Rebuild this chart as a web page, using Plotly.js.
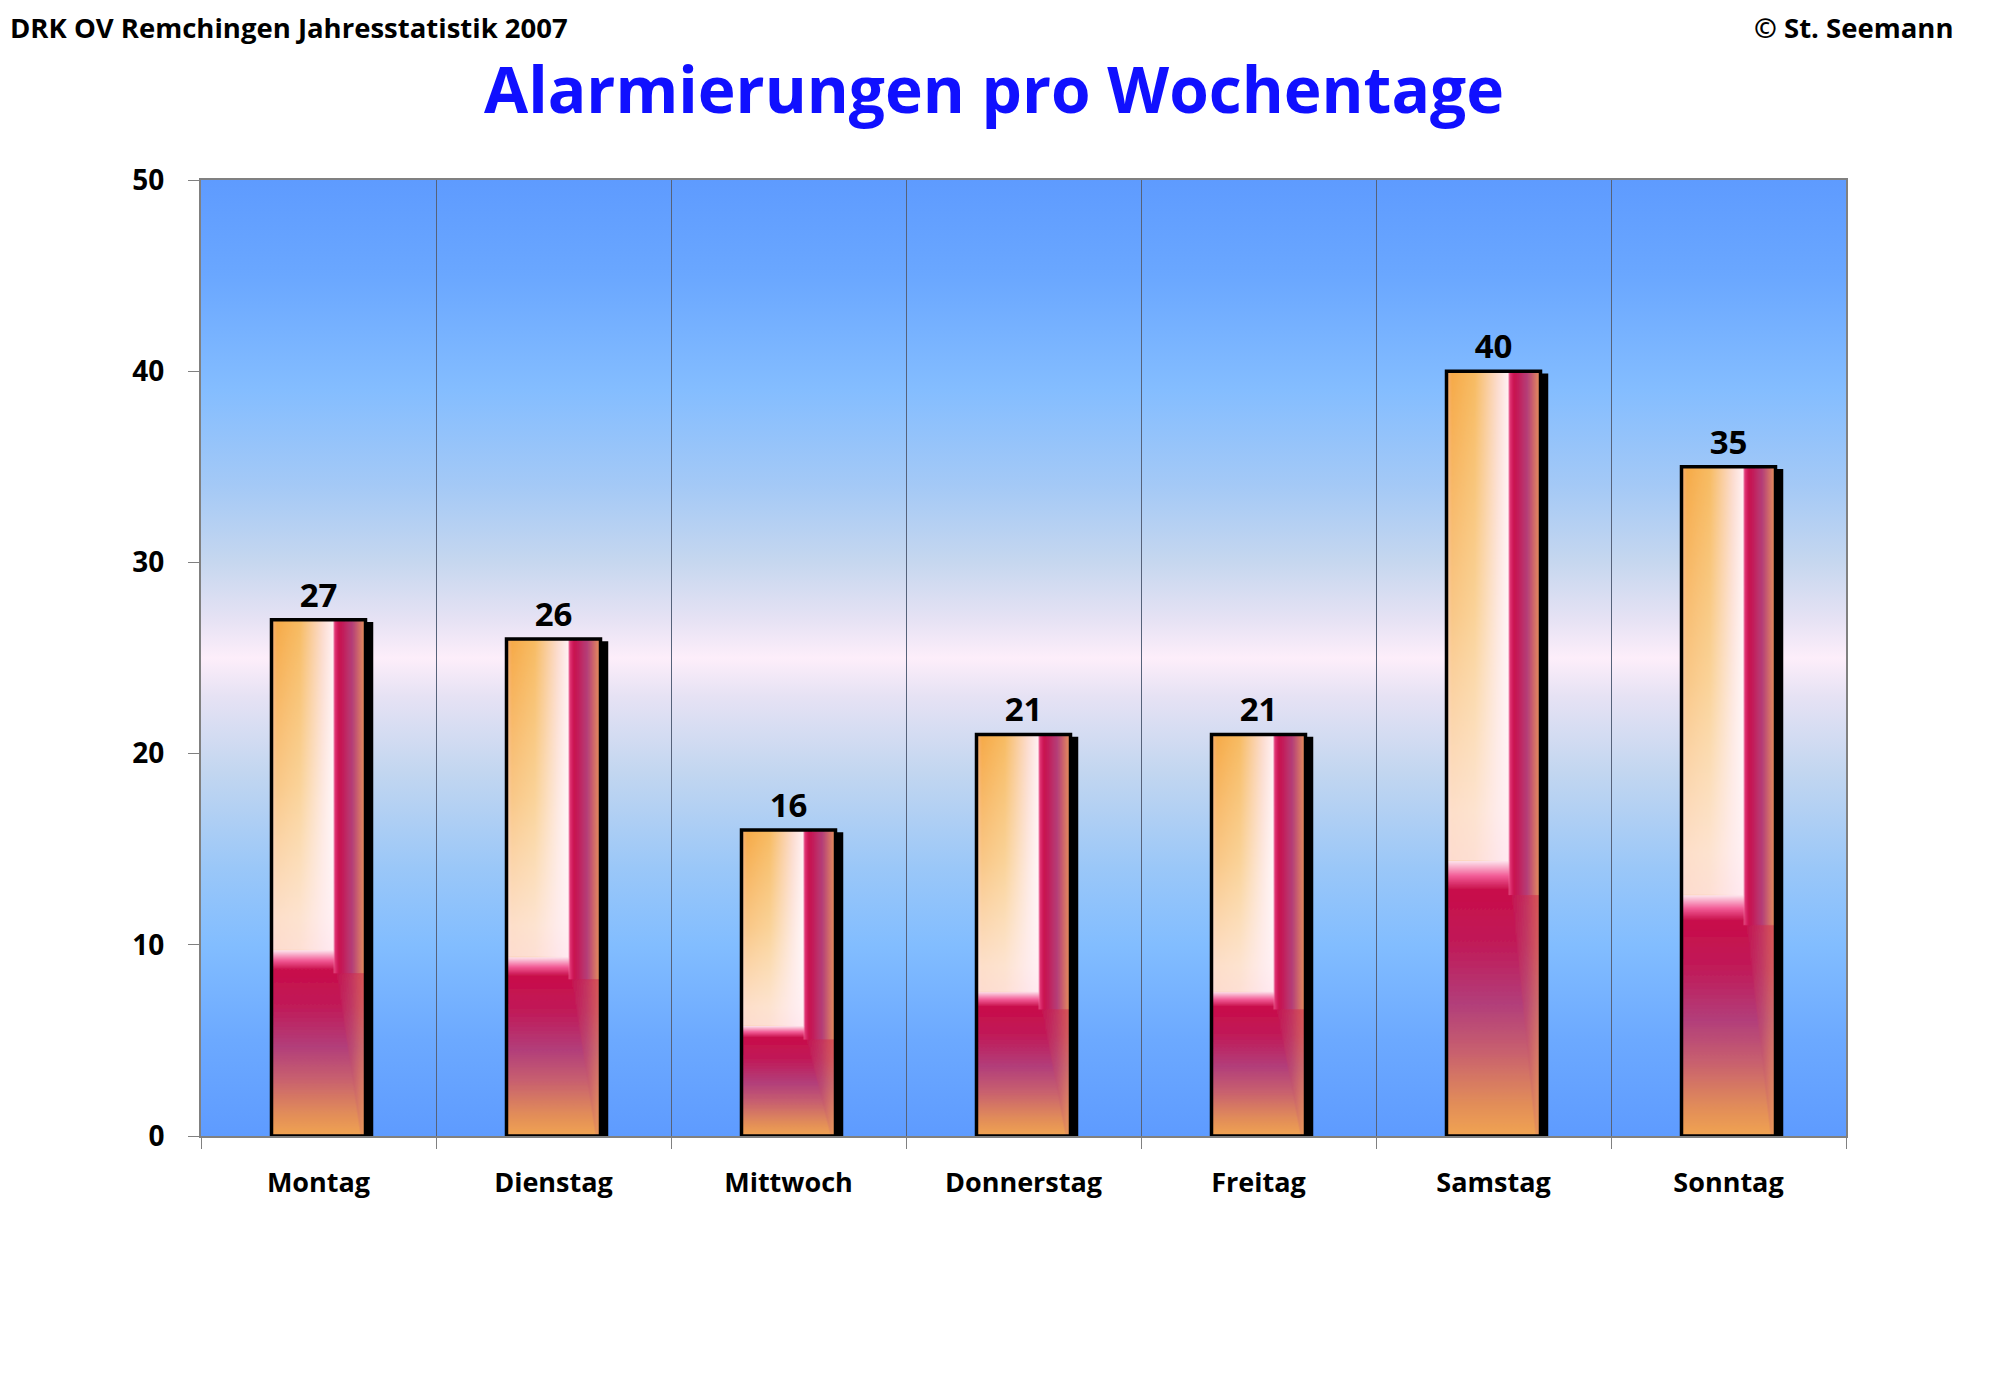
<!DOCTYPE html>
<html>
<head>
<meta charset="utf-8">
<script src="https://cdn.plot.ly/plotly-3.0.1.min.js"></script>
<style>
  body { margin: 0; background: #fff; }
  #chart { width: 2000px; height: 1388px; }
</style>
</head>
<body>
<div id="chart"></div>
<script>
var days = ['Montag', 'Dienstag', 'Mittwoch', 'Donnerstag', 'Freitag', 'Samstag', 'Sonntag'];
var alarms = [27, 26, 16, 21, 21, 40, 35];
var yTicks = [0, 10, 20, 30, 40, 50];

var FONT = '"Comic Sans MS", "Open Sans", sans-serif';
var SVGNS = 'http://www.w3.org/2000/svg';

// plot area background: blue - pink - blue
function bgImage() {
    var stops = [
        [0, '#5e9bff'], [0.1, '#6aa7ff'], [0.22, '#84bdff'], [0.32, '#a4c9f6'],
        [0.4, '#c6d7ef'], [0.46, '#e6e2f4'], [0.5, '#fdeefa'], [0.54, '#e6e2f4'],
        [0.62, '#c2d6f0'], [0.72, '#9ac7f8'], [0.8, '#82bdff'], [0.9, '#6ca9ff'], [1, '#5e9bff']
    ];
    var s = '<svg xmlns="http://www.w3.org/2000/svg" width="100" height="100" viewBox="0 0 100 100" preserveAspectRatio="none">' +
        '<defs><linearGradient id="g" x1="0" y1="0" x2="0" y2="1">';
    stops.forEach(function (st) {
        s += '<stop offset="' + st[0] + '" stop-color="' + st[1] + '"/>';
    });
    s += '</linearGradient></defs><rect width="100" height="100" fill="url(#g)"/></svg>';
    return 'data:image/svg+xml;charset=utf-8,' + encodeURIComponent(s);
}

function el(tag, attrs, parent) {
    var e = document.createElementNS(SVGNS, tag);
    for (var k in attrs) e.setAttribute(k, attrs[k]);
    if (parent) parent.appendChild(e);
    return e;
}

function grad(defs, id, vertical, stops) {
    var g = el('linearGradient', {id: id, x1: 0, y1: 0, x2: vertical ? 0 : 1, y2: vertical ? 1 : 0}, defs);
    stops.forEach(function (st) {
        el('stop', {offset: st[0], 'stop-color': st[1], 'stop-opacity': st.length > 2 ? st[2] : 1}, g);
    });
}

// excel style gradient fill + drop shadow on the bars plotly drew
function paintBars() {
    var svg = document.querySelector('#chart svg.main-svg');
    var defs = el('defs', {}, svg);

    grad(defs, 'topH', false, [
        [0, '#f6ad78'], [0.06, '#f6aa48'], [0.3, '#f7bb62'], [0.55, '#fcdcd0'],
        [0.655, '#fff0f2'], [0.67, '#e23a78'], [0.72, '#c8104e'], [0.86, '#b43e78'], [1, '#e9945a']
    ]);
    grad(defs, 'topFade', true, [
        [0, '#ffffff', 0], [0.5, '#ffffff', 0.35], [0.9, '#fff0f4', 0.75], [1, '#ffe8f0', 0.8]
    ]);
    grad(defs, 'band', true, [
        [0, '#fde6ee'], [0.4, '#f25b96'], [0.75, '#c8104c'], [1, '#c8104c']
    ]);
    grad(defs, 'bottomV', true, [
        [0, '#c70e4b'], [0.2, '#c01a58'], [0.45, '#b23e7a'], [0.65, '#c8606e'],
        [0.85, '#e08a5a'], [1, '#f1a450']
    ]);
    grad(defs, 'rightH', false, [
        [0, '#c01a58'], [0.5, '#c0506e'], [1, '#ea9a5c']
    ]);

    var pat = el('pattern', {id: 'barFill', patternUnits: 'objectBoundingBox',
        patternContentUnits: 'objectBoundingBox', x: 0, y: 0, width: 1, height: 1}, defs);
    el('rect', {x: 0, y: 0, width: 1, height: 0.69, fill: 'url(#topH)'}, pat);
    el('rect', {x: 0, y: 0, width: 0.665, height: 0.64, fill: 'url(#topFade)'}, pat);
    el('rect', {x: 0, y: 0.64, width: 0.665, height: 0.05, fill: 'url(#band)'}, pat);
    el('rect', {x: 0, y: 0.685, width: 1, height: 0.315, fill: 'url(#bottomV)'}, pat);
    el('polygon', {points: '0.7,0.685 1,0.685 1,1 0.95,1', fill: 'url(#rightH)', opacity: 0.55}, pat);

    var f = el('filter', {id: 'barShadow', x: '-5%', y: '-5%', width: '120%', height: '112%'}, defs);
    el('feOffset', {'in': 'SourceAlpha', dx: 6, dy: 4, result: 'off'}, f);
    el('feFlood', {'flood-color': '#000000', result: 'black'}, f);
    el('feComposite', {'in': 'black', in2: 'off', operator: 'in', result: 'sh'}, f);
    var m = el('feMerge', {}, f);
    el('feMergeNode', {'in': 'sh'}, m);
    el('feMergeNode', {'in': 'SourceGraphic'}, m);

    document.querySelectorAll('#chart .barlayer .point path').forEach(function (p) {
        p.style.fill = 'url(#barFill)';
        p.setAttribute('filter', 'url(#barShadow)');
    });
}

var trace = {
    type: 'bar',
    x: days,
    y: alarms,
    width: 0.4,
    marker: {color: '#f0a050', line: {color: '#000000', width: 3.5}},
    text: alarms.map(String),
    textposition: 'outside',
    textfont: {family: FONT, size: 33, color: '#000000', weight: 'bold'},
    cliponaxis: false,
    hoverinfo: 'x+y'
};

var layout = {
    width: 2000,
    height: 1388,
    margin: {l: 201, r: 154, t: 180, b: 252, pad: 0},
    paper_bgcolor: '#ffffff',
    plot_bgcolor: 'rgba(0,0,0,0)',
    showlegend: false,
    font: {family: FONT, color: '#000000'},
    title: {
        text: 'Alarmierungen pro Wochentage',
        font: {family: FONT, size: 64, color: '#1010ff', weight: 'bold'},
        xref: 'container', yref: 'container',
        x: 0.497, y: 0.935, xanchor: 'center', yanchor: 'middle'
    },
    xaxis: {
        type: 'category',
        tickson: 'boundaries',
        ticks: 'outside', ticklen: 11, tickcolor: '#808080', tickwidth: 1,
        showgrid: true, gridcolor: '#56627a', gridwidth: 1,
        showline: true, linecolor: '#808080', linewidth: 2, mirror: true,
        ticklabelstandoff: 22,
        tickfont: {family: FONT, size: 27, color: '#000000', weight: 'bold'},
        fixedrange: true
    },
    yaxis: {
        range: [0, 50],
        tickmode: 'array', tickvals: yTicks, ticktext: yTicks.map(String),
        ticks: 'outside', ticklen: 11, tickcolor: '#808080', tickwidth: 1,
        showgrid: false, zeroline: false,
        showline: true, linecolor: '#808080', linewidth: 2, mirror: true,
        ticklabelstandoff: 18,
        tickfont: {family: FONT, size: 28, color: '#000000', weight: 'bold'},
        fixedrange: true
    },
    images: [{
        source: bgImage(),
        xref: 'paper', yref: 'paper', x: 0, y: 1, sizex: 1, sizey: 1,
        xanchor: 'left', yanchor: 'top', sizing: 'stretch', layer: 'below'
    }],
    annotations: [
        {text: 'DRK OV Remchingen Jahresstatistik 2007', xref: 'paper', yref: 'paper',
         x: -0.1173, y: 1.16, xanchor: 'left', yanchor: 'middle', showarrow: false,
         font: {family: FONT, size: 27.5, color: '#000000', weight: 'bold'}},
        {text: '© St. Seemann', xref: 'paper', yref: 'paper',
         x: 1.0669, y: 1.16, xanchor: 'right', yanchor: 'middle', showarrow: false,
         font: {family: FONT, size: 27.5, color: '#000000', weight: 'bold'}}
    ]
};

Plotly.newPlot('chart', [trace], layout, {displayModeBar: false, staticPlot: true}).then(paintBars);
</script>
</body>
</html>
